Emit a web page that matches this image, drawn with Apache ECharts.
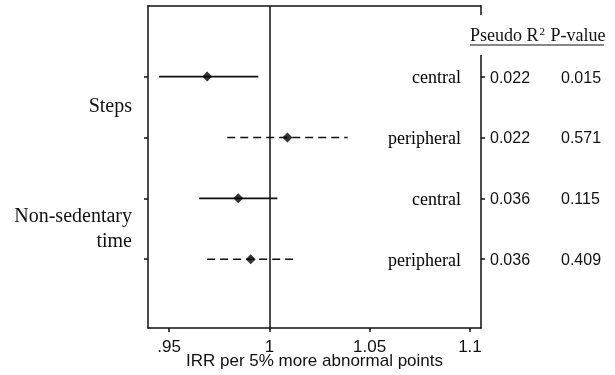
<!DOCTYPE html>
<html>
<head>
	<meta charset="UTF-8" />
	<title></title>
	<style type="text/css">
		* { margin: 0; padding: 0; }
		#main { width: 615px; height: 375px; background: #fff; }
	</style>
</head>
<body>
	<div id="main"></div>
</body>
<script src="https://cdn.jsdelivr.net/npm/echarts@6/dist/echarts.min.js"></script>
<script type="text/javascript">
	// rows top to bottom
	var rows = [1, 2, 3, 4]
	var groups = ['Steps', 'Non-sedentary\ntime']
	var sites = ['central', 'peripheral', 'central', 'peripheral']
	var irr = [0.969, 1.009, 0.9845, 0.9907]
	var lower = [0.945, 0.979, 0.965, 0.969]
	var upper = [0.9945, 1.039, 1.004, 1.013]
	var pseudoR2 = ['0.022', '0.022', '0.036', '0.036']
	var pValue = ['0.015', '0.571', '0.115', '0.409']
	var xTicks = [0.95, 1, 1.05, 1.1]
	var xTickLabels = ['.95', '1', '1.05', '1.1']

	var xMin = 0.9395, xMax = 1.1055
	var serif = 'Liberation Serif'
	var sans = 'Liberation Sans'
	var ink = '#111'

	var myChart = echarts.init(document.getElementById('main'))

	var ciData = rows.map(function (r, i) { return [lower[i], upper[i], r] })
	var pointData = rows.map(function (r, i) { return [irr[i], r] })
	var siteData = rows.map(function (r) { return [xMax, r] })

	var option = {
		animation: false,
		backgroundColor: '#fff',
		title: {
			left: 468,
			top: 15,
			padding: [12, 2, 10, 2],
			backgroundColor: '#fff',
			text: '{n|Pseudo R}{s|2}{n| P-value}',
			textStyle: {
				fontWeight: 'normal',
				rich: {
					n: { fontFamily: serif, fontSize: 18, fontWeight: 'normal', color: ink },
					s: { fontFamily: serif, fontSize: 11, fontWeight: 'normal', color: ink, verticalAlign: 'top', padding: [0, 1, 6, 1] }
				}
			}
		},
		graphic: [{
			type: 'line',
			z: 100,
			shape: { x1: 470, y1: 45, x2: 604, y2: 45 },
			style: { stroke: ink, lineWidth: 1 }
		}],
		grid: { left: 148, top: 6, width: 333, height: 322, show: false, outerBoundsMode: 'none', containLabel: false },
		xAxis: [{
			type: 'value',
			min: xMin,
			max: xMax,
			position: 'bottom',
			axisLine: { onZero: false, lineStyle: { color: ink, width: 1.5 } },
			axisTick: { customValues: xTicks, length: 4, lineStyle: { color: ink, width: 1.5 } },
			axisLabel: {
				customValues: xTicks,
				margin: 11,
				fontFamily: sans,
				fontSize: 17,
				color: ink,
				formatter: function (v) { return xTickLabels[xTicks.indexOf(v)] }
			},
			splitLine: { show: false },
			name: 'IRR per 5% more abnormal points',
			nameLocation: 'middle',
			nameMoveOverlap: false,
			nameGap: 25,
			nameTextStyle: { fontFamily: sans, fontSize: 17, color: ink }
		}, {
			type: 'value',
			min: xMin,
			max: xMax,
			position: 'top',
			axisLine: { onZero: false, lineStyle: { color: ink, width: 1.5 } },
			axisTick: { show: false },
			axisLabel: { show: false },
			splitLine: { show: false }
		}],
		yAxis: [{
			type: 'value',
			inverse: true,
			min: -0.16,
			max: 5.13,
			position: 'left',
			axisLine: { show: true, onZero: false, lineStyle: { color: ink, width: 1.5 } },
			axisTick: { show: true, customValues: rows, length: 4, lineStyle: { color: ink, width: 1.5 } },
			axisLabel: {
				customValues: [1.5, 3.5],
				margin: 16,
				fontFamily: serif,
				fontSize: 20,
				lineHeight: 25,
				align: 'right',
				color: ink,
				padding: [0, 0, 8, 0],
				formatter: function (v) { return v < 2 ? groups[0] : groups[1] }
			},
			splitLine: { show: false }
		}, {
			type: 'value',
			inverse: true,
			min: -0.16,
			max: 5.13,
			position: 'right',
			axisLine: { show: true, onZero: false, lineStyle: { color: ink, width: 1.5 } },
			axisTick: { show: true, customValues: rows, length: 4, lineStyle: { color: ink, width: 1.5 } },
			axisLabel: {
				customValues: rows,
				margin: 9,
				color: ink,
				formatter: function (v) {
					var i = rows.indexOf(v)
					return '{a|' + pseudoR2[i] + '}{b|' + pValue[i] + '}'
				},
				rich: {
					a: { fontFamily: sans, fontSize: 16, color: ink, width: 71, padding: [3, 0, 0, 0] },
					b: { fontFamily: sans, fontSize: 16, color: ink, padding: [3, 0, 0, 0] }
				}
			},
			splitLine: { show: false }
		}],
		series: [{
			// confidence intervals
			type: 'custom',
			renderItem: function (params, api) {
				var a = api.coord([api.value(0), api.value(2)])
				var b = api.coord([api.value(1), api.value(2)])
				var dashed = sites[params.dataIndex] === 'peripheral'
				return {
					type: 'line',
					shape: { x1: a[0], y1: a[1], x2: b[0], y2: b[1] },
					style: { stroke: ink, lineWidth: 1.6, lineDash: dashed ? [8, 5] : null }
				}
			},
			encode: { x: [0, 1], y: 2 },
			data: ciData,
			z: 2
		}, {
			type: 'scatter',
			symbol: 'diamond',
			symbolSize: 10,
			itemStyle: { color: '#000' },
			data: pointData,
			z: 4,
			markLine: {
				silent: true,
				symbol: ['none', 'none'],
				label: { show: false },
				lineStyle: { color: ink, width: 1.5, type: 'solid' },
				data: [{ xAxis: 1 }]
			}
		}, {
			// site labels inside the plot, right aligned
			type: 'scatter',
			symbolSize: 0,
			silent: true,
			data: siteData,
			itemStyle: { opacity: 1 },
			label: {
				show: true,
				position: 'left',
				distance: 20,
				offset: [0, 2],
				fontFamily: serif,
				fontSize: 18,
				color: '#000',
				opacity: 1,
				formatter: function (p) { return sites[p.dataIndex] }
			}
		}]
	}
	myChart.setOption(option)
</script>
</html>
